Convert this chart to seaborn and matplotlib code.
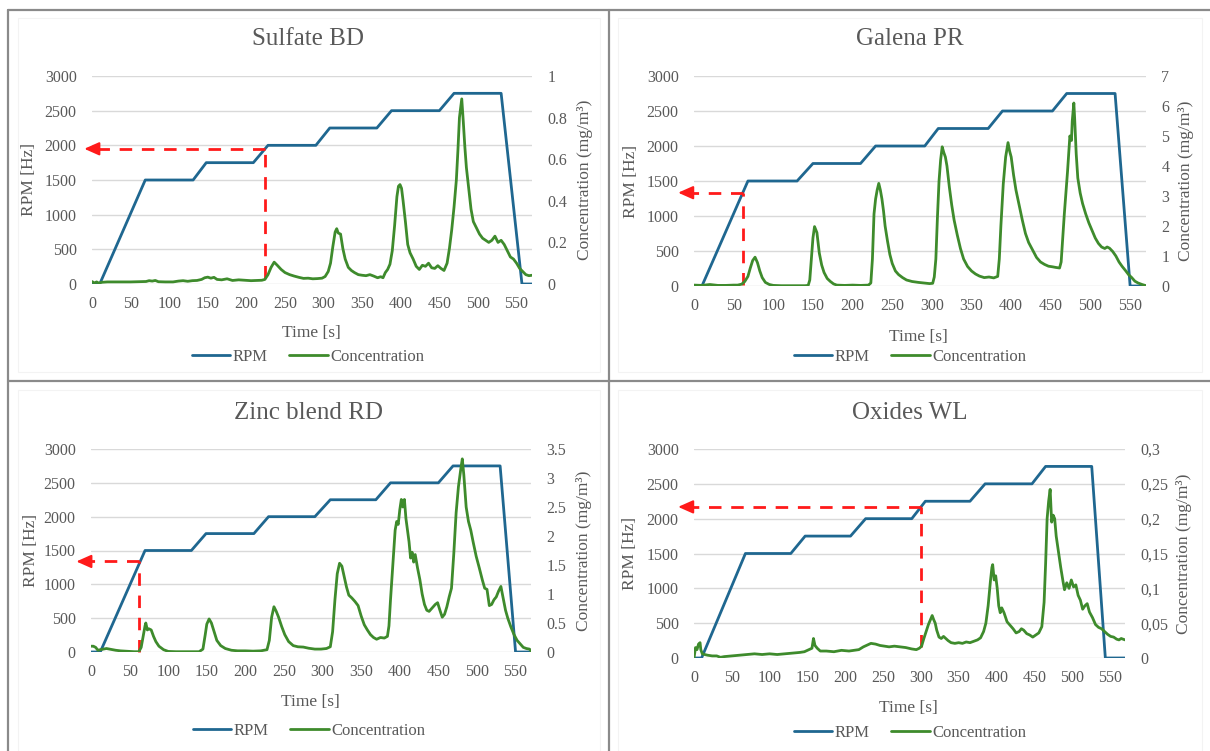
import numpy as np
import pandas as pd
import matplotlib
matplotlib.use('Agg')
import matplotlib.pyplot as plt
import seaborn as sns
from matplotlib.lines import Line2D
from matplotlib.patches import Rectangle

# ---------------- data ----------------
time_ticks = [0, 50, 100, 150, 200, 250, 300, 350, 400, 450, 500, 550]
rpm_ticks = [0, 500, 1000, 1500, 2000, 2500, 3000]

# RPM profile vertices (time [s], rpm)
sulfate_rpm_t = [0, 10, 69, 131, 148, 209, 228, 290, 308, 369, 388, 450, 469, 530, 557, 570]
sulfate_rpm = [0, 0, 1500, 1500, 1750, 1750, 2000, 2000, 2250, 2250, 2500, 2500, 2750, 2750, 0, 0]
galena_rpm_t = [0, 10, 68, 130, 150, 210, 229, 291, 308, 371, 389, 452, 470, 531, 550, 570]
galena_rpm = [0, 0, 1500, 1500, 1750, 1750, 2000, 2000, 2250, 2250, 2500, 2500, 2750, 2750, 0, 0]
zinc_rpm_t = [0, 12, 70, 130, 149, 211, 230, 290, 310, 369, 388, 450, 469, 530, 550, 570]
zinc_rpm = [0, 0, 1500, 1500, 1750, 1750, 2000, 2000, 2250, 2250, 2500, 2500, 2750, 2750, 0, 0]
oxides_rpm_t = [0, 10, 68, 128, 147, 207, 227, 288, 306, 365, 385, 447, 465, 526, 544, 570]
oxides_rpm = [0, 0, 1500, 1500, 1750, 1750, 2000, 2000, 2250, 2250, 2500, 2500, 2750, 2750, 0, 0]

# Concentration (mg/m3)
sulfate_t = [0, 3, 6, 9, 12, 20, 30, 40, 50, 60, 66, 70, 74, 78, 82, 86, 95, 105, 112, 118, 124, 130, 136,
             142, 146, 150, 154, 158, 162, 168, 175, 182, 190, 198, 206, 214, 220, 224, 228, 232, 236, 240,
             245, 250, 256, 262, 268, 274, 280, 286, 292, 298, 302, 306, 309, 312, 315, 317, 319, 322, 325,
             328, 332, 336, 340, 345, 350, 355, 360, 365, 370, 374, 377, 380, 383, 386, 389, 392, 395, 397,
             399, 401, 403, 406, 409, 412, 416, 420, 424, 428, 432, 436, 440, 444, 448, 452, 456, 460, 463,
             466, 469, 472, 474, 476, 478, 479, 481, 483, 485, 488, 491, 494, 498, 502, 506, 510, 514, 518,
             522, 526, 530, 534, 538, 542, 546, 550, 554, 558, 562, 566, 570]
sulfate_conc = [0.012, 0.005, 0.01, 0.004, 0.008, 0.01, 0.01, 0.01, 0.01, 0.011, 0.012, 0.012, 0.016, 0.014,
                0.017, 0.011, 0.01, 0.01, 0.014, 0.016, 0.013, 0.016, 0.017, 0.022, 0.03, 0.033, 0.028,
                0.032, 0.022, 0.02, 0.025, 0.017, 0.02, 0.018, 0.016, 0.017, 0.018, 0.022, 0.045, 0.08,
                0.105, 0.09, 0.07, 0.055, 0.045, 0.038, 0.032, 0.027, 0.028, 0.025, 0.026, 0.028, 0.036,
                0.06, 0.1, 0.18, 0.25, 0.266, 0.245, 0.24, 0.17, 0.12, 0.08, 0.065, 0.055, 0.045, 0.042,
                0.04, 0.045, 0.038, 0.03, 0.035, 0.03, 0.055, 0.07, 0.095, 0.16, 0.28, 0.42, 0.47, 0.478,
                0.46, 0.4, 0.3, 0.19, 0.15, 0.12, 0.085, 0.07, 0.09, 0.085, 0.1, 0.078, 0.075, 0.088, 0.075,
                0.065, 0.1, 0.17, 0.26, 0.37, 0.5, 0.64, 0.8, 0.86, 0.89, 0.78, 0.66, 0.56, 0.46, 0.36, 0.3,
                0.27, 0.24, 0.22, 0.21, 0.2, 0.21, 0.23, 0.2, 0.21, 0.19, 0.16, 0.13, 0.12, 0.1, 0.075, 0.06,
                0.045, 0.04, 0.042]

galena_t = [0, 10, 20, 30, 40, 50, 55, 60, 64, 68, 71, 74, 77, 80, 83, 86, 90, 95, 100, 110, 120, 130, 140,
            144, 146, 148, 150, 152, 155, 158, 161, 164, 168, 172, 176, 180, 190, 200, 210, 220, 223, 225,
            227, 229, 231, 233, 235, 237, 239, 241, 244, 247, 250, 254, 258, 263, 268, 275, 283, 290, 297,
            301, 303, 305, 307, 309, 311, 313, 315, 317, 319, 322, 325, 328, 332, 336, 340, 345, 350, 355,
            360, 366, 372, 378, 383, 385, 387, 390, 393, 396, 398, 400, 403, 406, 410, 414, 418, 422, 427,
            432, 437, 442, 447, 452, 456, 461, 463, 465, 467, 469, 471, 473, 474, 476, 477, 479, 480, 482,
            484, 487, 490, 494, 498, 502, 506, 510, 514, 518, 521, 524, 528, 532, 536, 540, 544, 548, 552,
            556, 560, 565, 570]
galena_conc = [0.03, 0.02, 0.05, 0.02, 0.02, 0.03, 0.03, 0.06, 0.15, 0.32, 0.6, 0.85, 0.96, 0.78, 0.5, 0.28,
               0.12, 0.05, 0.02, 0.01, 0.01, 0.01, 0.01, 0.02, 0.2, 0.9, 1.6, 1.98, 1.78, 1.1, 0.7, 0.45,
               0.25, 0.15, 0.07, 0.03, 0.02, 0.03, 0.02, 0.03, 0.1, 0.9, 2.4, 2.9, 3.2, 3.42, 3.2, 2.9, 2.5,
               2.0, 1.5, 1.05, 0.75, 0.5, 0.38, 0.28, 0.2, 0.15, 0.12, 0.1, 0.08, 0.09, 0.3, 0.9, 2.3, 3.5,
               4.2, 4.64, 4.45, 4.3, 4.0, 3.3, 2.7, 2.2, 1.7, 1.25, 0.9, 0.65, 0.5, 0.4, 0.33, 0.28, 0.3,
               0.27, 0.32, 0.9, 2.0, 3.4, 4.3, 4.78, 4.5, 4.3, 3.7, 3.2, 2.7, 2.2, 1.75, 1.45, 1.2, 0.95,
               0.8, 0.72, 0.66, 0.64, 0.62, 0.6, 0.8, 1.6, 2.4, 3.1, 3.8, 4.6, 5.0, 4.85, 5.5, 6.1, 5.6, 4.4,
               3.6, 3.1, 2.75, 2.4, 2.1, 1.85, 1.6, 1.42, 1.3, 1.25, 1.3, 1.26, 1.15, 1.0, 0.8, 0.65, 0.52,
               0.38, 0.28, 0.16, 0.1, 0.05, 0.01]

zinc_t = [0, 3, 6, 9, 12, 16, 20, 24, 28, 32, 38, 44, 50, 56, 62, 65, 68, 70, 71, 73, 75, 78, 81, 84, 88, 94,
          100, 110, 120, 130, 140, 145, 148, 150, 153, 156, 159, 163, 168, 174, 182, 190, 200, 210, 220, 228,
          231, 234, 237, 240, 243, 247, 251, 256, 262, 268, 275, 282, 290, 298, 305, 310, 313, 316, 319, 322,
          325, 328, 331, 334, 338, 342, 346, 350, 354, 358, 362, 366, 370, 375, 380, 384, 386, 388, 391, 394,
          396, 398, 400, 402, 404, 406, 408, 410, 412, 414, 416, 418, 420, 423, 426, 429, 432, 435, 438, 442,
          446, 449, 452, 455, 458, 461, 464, 467, 470, 473, 476, 479, 481, 483, 486, 489, 492, 495, 499, 503,
          507, 510, 513, 516, 519, 522, 525, 528, 531, 534, 537, 540, 544, 548, 552, 556, 560, 564, 568, 570]
zinc_conc = [0.1, 0.1, 0.08, 0.03, 0.04, 0.05, 0.06, 0.05, 0.04, 0.03, 0.02, 0.015, 0.01, 0.005, 0.005, 0.08,
             0.3, 0.45, 0.5, 0.38, 0.4, 0.38, 0.27, 0.18, 0.1, 0.04, 0.01, 0.005, 0.005, 0.005, 0.005, 0.05,
             0.3, 0.48, 0.57, 0.5, 0.37, 0.2, 0.11, 0.06, 0.03, 0.02, 0.02, 0.015, 0.02, 0.04, 0.2, 0.6, 0.78,
             0.7, 0.6, 0.44, 0.3, 0.18, 0.11, 0.09, 0.085, 0.065, 0.05, 0.05, 0.06, 0.09, 0.35, 0.9, 1.35,
             1.53, 1.48, 1.3, 1.12, 0.98, 0.93, 0.87, 0.8, 0.62, 0.47, 0.38, 0.3, 0.25, 0.22, 0.25, 0.24,
             0.27, 0.45, 0.9, 1.5, 2.1, 2.25, 2.2, 2.45, 2.63, 2.5, 2.63, 2.3, 2.1, 1.9, 1.62, 1.72, 1.55,
             1.68, 1.45, 1.25, 1.0, 0.82, 0.72, 0.7, 0.76, 0.82, 0.85, 0.72, 0.6, 0.65, 0.78, 0.95, 1.1, 1.7,
             2.4, 2.85, 3.15, 3.33, 3.05, 2.5, 2.25, 2.1, 1.9, 1.65, 1.45, 1.24, 1.1, 1.08, 0.8, 0.82, 0.9,
             0.95, 1.05, 1.13, 0.92, 0.72, 0.58, 0.43, 0.3, 0.2, 0.14, 0.08, 0.06, 0.05, 0.02]

oxides_t = [0, 2, 4, 6, 8, 9, 11, 14, 18, 24, 30, 35, 40, 50, 60, 70, 80, 90, 100, 110, 120, 130, 140, 146,
            152, 156, 158, 160, 163, 167, 175, 185, 195, 205, 212, 218, 224, 228, 234, 240, 246, 252, 258, 265,
            272, 280, 288, 294, 298, 301, 304, 307, 310, 313, 315, 317, 319, 321, 324, 327, 330, 333, 336, 340,
            345, 350, 355, 360, 365, 370, 375, 379, 383, 386, 389, 392, 394, 395, 397, 399, 401, 403, 405, 407,
            410, 414, 418, 422, 426, 430, 433, 436, 440, 444, 448, 452, 456, 460, 463, 465, 467, 469, 471, 473,
            475, 477, 479, 482, 485, 488, 490, 493, 496, 499, 502, 505, 508, 511, 514, 517, 520, 523, 527, 531,
            535, 539, 543, 547, 551, 555, 559, 562, 565, 570]
oxides_conc = [0.0, 0.015, 0.012, 0.02, 0.022, 0.012, 0.006, 0.005, 0.004, 0.003, 0.003, 0.001, 0.002, 0.003,
               0.004, 0.005, 0.006, 0.005, 0.006, 0.005, 0.006, 0.007, 0.008, 0.009, 0.012, 0.014, 0.028,
               0.018, 0.014, 0.01, 0.01, 0.009, 0.011, 0.01, 0.011, 0.012, 0.016, 0.018, 0.021, 0.02, 0.018,
               0.017, 0.016, 0.017, 0.016, 0.015, 0.013, 0.012, 0.014, 0.017, 0.028, 0.038, 0.048, 0.056,
               0.061, 0.055, 0.05, 0.04, 0.03, 0.028, 0.031, 0.028, 0.025, 0.022, 0.021, 0.022, 0.021, 0.023,
               0.022, 0.024, 0.026, 0.029, 0.038, 0.05, 0.075, 0.11, 0.13, 0.134, 0.112, 0.118, 0.1, 0.075,
               0.065, 0.072, 0.065, 0.052, 0.047, 0.042, 0.036, 0.038, 0.042, 0.04, 0.035, 0.033, 0.03, 0.033,
               0.036, 0.045, 0.08, 0.135, 0.2, 0.225, 0.242, 0.195, 0.205, 0.2, 0.175, 0.152, 0.13, 0.11,
               0.098, 0.108, 0.1, 0.112, 0.102, 0.105, 0.09, 0.083, 0.07, 0.075, 0.078, 0.066, 0.058, 0.048,
               0.044, 0.042, 0.038, 0.034, 0.031, 0.03, 0.027, 0.026, 0.028, 0.026]

# right-axis tick values / labels
sulfate_cticks = [0, 0.2, 0.4, 0.6, 0.8, 1.0]
sulfate_clabels = ['0', '0.2', '0.4', '0.6', '0.8', '1']
galena_cticks = [0, 1, 2, 3, 4, 5, 6, 7]
galena_clabels = ['0', '1', '2', '3', '4', '5', '6', '7']
zinc_cticks = [0, 0.5, 1.0, 1.5, 2.0, 2.5, 3.0, 3.5]
zinc_clabels = ['0', '0.5', '1', '1.5', '2', '2.5', '3', '3.5']
oxides_cticks = [0, 0.05, 0.1, 0.15, 0.2, 0.25, 0.3]
oxides_clabels = ['0', '0,05', '0,1', '0,15', '0,2', '0,25', '0,3']

# red marker lines: (vertical time, top rpm, bottom rpm, arrow tip time)
sulfate_mark = (224, 1950, 80, -10)
galena_mark = (62, 1333, 15, -20)
zinc_mark = (62, 1338, 0, -19)
oxides_mark = (300, 2169, 158, -21)

# ---------------- styling ----------------
sns.set_style('white')
plt.rcParams['font.family'] = ['Liberation Serif', 'DejaVu Serif']
TXT = '#595959'
BLUE = '#1f6790'
GREEN = '#3e8b2c'
W, H = 1210, 751

fig = plt.figure(figsize=(W / 100, H / 100), dpi=100)


def px_rect(left, top, right, bottom):
    return [left / W, 1 - bottom / H, (right - left) / W, (bottom - top) / H]


panels = [
    dict(title='Sulfate BD', box=(92, 76, 532, 284), rt=sulfate_rpm_t, r=sulfate_rpm, ct=sulfate_t,
         c=sulfate_conc, cticks=sulfate_cticks, clabels=sulfate_clabels, mark=sulfate_mark,
         title_xy=(308, 39), xlab_xy=(311, 333), leg_xy=(308, 357), yl_x=29, yr_x=585),
    dict(title='Galena PR', box=(694, 76, 1146, 286), rt=galena_rpm_t, r=galena_rpm, ct=galena_t,
         c=galena_conc, cticks=galena_cticks, clabels=galena_clabels, mark=galena_mark,
         title_xy=(910, 39), xlab_xy=(918, 337), leg_xy=(910, 357), yl_x=631, yr_x=1186),
    dict(title='Zinc blend RD', box=(91, 449, 531, 652), rt=zinc_rpm_t, r=zinc_rpm, ct=zinc_t,
         c=zinc_conc, cticks=zinc_cticks, clabels=zinc_clabels, mark=zinc_mark,
         title_xy=(309, 413), xlab_xy=(310, 702), leg_xy=(309, 731), yl_x=31, yr_x=584),
    dict(title='Oxides WL', box=(694, 449, 1125, 658), rt=oxides_rpm_t, r=oxides_rpm, ct=oxides_t,
         c=oxides_conc, cticks=oxides_cticks, clabels=oxides_clabels, mark=oxides_mark,
         title_xy=(910, 413), xlab_xy=(908, 708), leg_xy=(910, 733), yl_x=630, yr_x=1184),
]

for p in panels:
    ax = fig.add_axes(px_rect(*p['box']))
    ax2 = ax.twinx()

    rpm_df = pd.DataFrame({'t': p['rt'], 'rpm': p['r']})
    conc_df = pd.DataFrame({'t': p['ct'], 'conc': p['c']})
    sns.lineplot(data=rpm_df, x='t', y='rpm', ax=ax, color=BLUE, lw=2.0, label='RPM', legend=False)
    sns.lineplot(data=conc_df, x='t', y='conc', ax=ax2, color=GREEN, lw=2.0, label='Concentration',
                 legend=False)

    ax.set_xlim(0, 570)
    ax.set_ylim(0, 3000)
    ax2.set_ylim(0, p['cticks'][-1])
    ax.set_xticks(time_ticks)
    ax.set_yticks(rpm_ticks)
    ax2.set_yticks(p['cticks'])
    ax2.set_yticklabels(p['clabels'])

    for a in (ax, ax2):
        for s in a.spines.values():
            s.set_visible(False)
        a.tick_params(length=0, labelsize=11.5, labelcolor=TXT)
        a.set_xlabel('')
        a.set_ylabel('')
    ax.tick_params(axis='x', pad=9)
    ax.tick_params(axis='y', pad=11)
    ax2.tick_params(axis='y', pad=11)
    ax.yaxis.grid(True, color='#d9d9d9', lw=1)
    ax.xaxis.grid(False)
    ax.set_axisbelow(True)

    # red dashed marker with arrow to the rpm axis
    vt, top, bot, tip = p['mark']
    ax.plot([vt, vt], [bot, top], color='#ff1a1a', lw=2, dashes=(4.5, 3.5), clip_on=False, zorder=3)
    ax.plot([vt, tip + 6], [top, top], color='#ff1a1a', lw=2, dashes=(4.5, 3.5), clip_on=False, zorder=3)
    ax.annotate('', xy=(tip, top), xytext=(tip + 9, top), annotation_clip=False,
                arrowprops=dict(arrowstyle='-|>,head_length=0.9,head_width=0.4', color='#ff1a1a',
                                lw=1.5, shrinkA=0, shrinkB=0))

    # texts
    fig.text(p['title_xy'][0] / W, 1 - p['title_xy'][1] / H, p['title'], ha='center', va='center',
             fontsize=18, color=TXT)
    fig.text(p['xlab_xy'][0] / W, 1 - p['xlab_xy'][1] / H, 'Time [s]', ha='center', va='center',
             fontsize=12.5, color=TXT)
    ymid = 1 - (p['box'][1] + p['box'][3]) / 2 / H
    fig.text(p['yl_x'] / W, ymid, 'RPM [Hz]', rotation=90, ha='center', va='center', fontsize=12.5,
             color=TXT)
    fig.text(p['yr_x'] / W, ymid, 'Concentration (mg/m\u00b3)', rotation=90, ha='center', va='center',
             fontsize=12.5, color=TXT)

    handles = [ax.lines[0], ax2.lines[0]]
    fig.legend(handles, ['RPM', 'Concentration'], loc='center',
               bbox_to_anchor=(p['leg_xy'][0] / W, 1 - p['leg_xy'][1] / H), ncol=2, frameon=False,
               fontsize=12, handlelength=2.3, handletextpad=0.15, columnspacing=1.3, labelcolor=TXT)

# faint chart frames
for (l, t, r, b) in [(18, 18, 600, 372), (618, 18, 1202, 372), (18, 390, 600, 751), (618, 390, 1202, 751)]:
    fig.add_artist(Rectangle((l / W, 1 - b / H), (r - l) / W, (b - t) / H, transform=fig.transFigure,
                             fill=False, ec='#f3f3f3', lw=0.8))

# table borders
border = dict(transform=fig.transFigure, color='#8a8a8a', lw=1.6)
fig.add_artist(Line2D([8 / W, 1], [1 - 10 / H, 1 - 10 / H], **border))
fig.add_artist(Line2D([8 / W, 1], [1 - 381 / H, 1 - 381 / H], **border))
fig.add_artist(Line2D([8 / W, 8 / W], [0, 1 - 10 / H], **border))
fig.add_artist(Line2D([609 / W, 609 / W], [0, 1 - 10 / H], **border))

fig.savefig('out.png', dpi=100)
